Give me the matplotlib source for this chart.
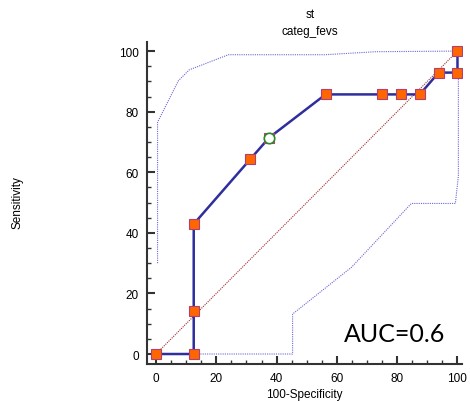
import matplotlib
matplotlib.use("Agg")
import matplotlib.pyplot as plt
from matplotlib.ticker import MultipleLocator

plt.rcParams['font.family'] = ['Liberation Sans', 'DejaVu Sans']

# ROC points (100-Specificity, Sensitivity)
fpr = [0, 12.5, 12.5, 12.5, 31.25, 37.5, 56.25, 75, 81.25, 87.5, 93.75, 100, 100]
tpr = [0, 0, 14.3, 42.9, 64.3, 71.4, 85.7, 85.7, 85.7, 85.7, 92.9, 92.9, 100]

# optimal criterion point
opt_x = [37.5]
opt_y = [71.4]

# confidence bands
upper_x = [0.5, 0.5, 7.4, 11, 24, 56, 73, 100]
upper_y = [30, 76.5, 90.2, 93.8, 98.8, 98.8, 99.8, 100]
lower_x = [12.5, 45.3, 45.3, 64.8, 84.7, 99.3, 100.3, 100.3]
lower_y = [0, 0, 13.2, 28.6, 49.7, 49.7, 58.8, 92.9]

fig = plt.figure(figsize=(4.7, 4.02), dpi=100)
ax = fig.add_axes([147 / 470, 1 - 365 / 402, 315 / 470, 322 / 402])

ax.plot([0, 100], [0, 100], color='#a03030', lw=0.8, ls=(0, (1, 1)), zorder=2)
ax.plot(upper_x, upper_y, color='#6a6ad8', lw=0.8, ls=(0, (1, 1)), zorder=2)
ax.plot(lower_x, lower_y, color='#6a6ad8', lw=0.8, ls=(0, (1, 1)), zorder=2)
ax.plot(fpr, tpr, color='#2e2e9e', lw=1.8, marker='s', ms=6.5,
        markerfacecolor='#ff6600', markeredgecolor='#b04070', markeredgewidth=0.8, zorder=3)
ax.plot(opt_x, opt_y, ls='none', marker='o', ms=7.5, markerfacecolor='white',
        markeredgecolor='#2a8a2a', markeredgewidth=1.2, zorder=4)

ax.set_xlim(-3, 101.5)
ax.set_ylim(-3.3, 103)
ax.xaxis.set_major_locator(MultipleLocator(20))
ax.xaxis.set_minor_locator(MultipleLocator(5))
ax.yaxis.set_major_locator(MultipleLocator(20))
ax.yaxis.set_minor_locator(MultipleLocator(5))
ax.spines['top'].set_visible(False)
ax.spines['right'].set_visible(False)
for s in ['left', 'bottom']:
    ax.spines[s].set_linewidth(1.5)
    ax.spines[s].set_color('#333333')
ax.tick_params(which='major', direction='in', length=6, width=1.5, color='#333333',
               labelsize=8.5, pad=6)
ax.tick_params(which='minor', direction='in', length=3, width=1, color='#333333')

ax.set_xlabel('100-Specificity', fontsize=8.5, labelpad=3)
fig.text(17 / 470, 1 - 203 / 402, 'Sensitivity', rotation=90, ha='center', va='center', fontsize=8.5)
fig.text(310 / 470, 1 - 15 / 402, 'st', ha='center', va='center', fontsize=8.5)
fig.text(310 / 470, 1 - 32 / 402, 'categ_fevs', ha='center', va='center', fontsize=8.5)
fig.text(395 / 470, 1 - 335 / 402, 'AUC=0.6', fontsize=18, family=['Lato', 'DejaVu Sans'],
         ha='center', va='center')

fig.savefig('out.png', dpi=100)
